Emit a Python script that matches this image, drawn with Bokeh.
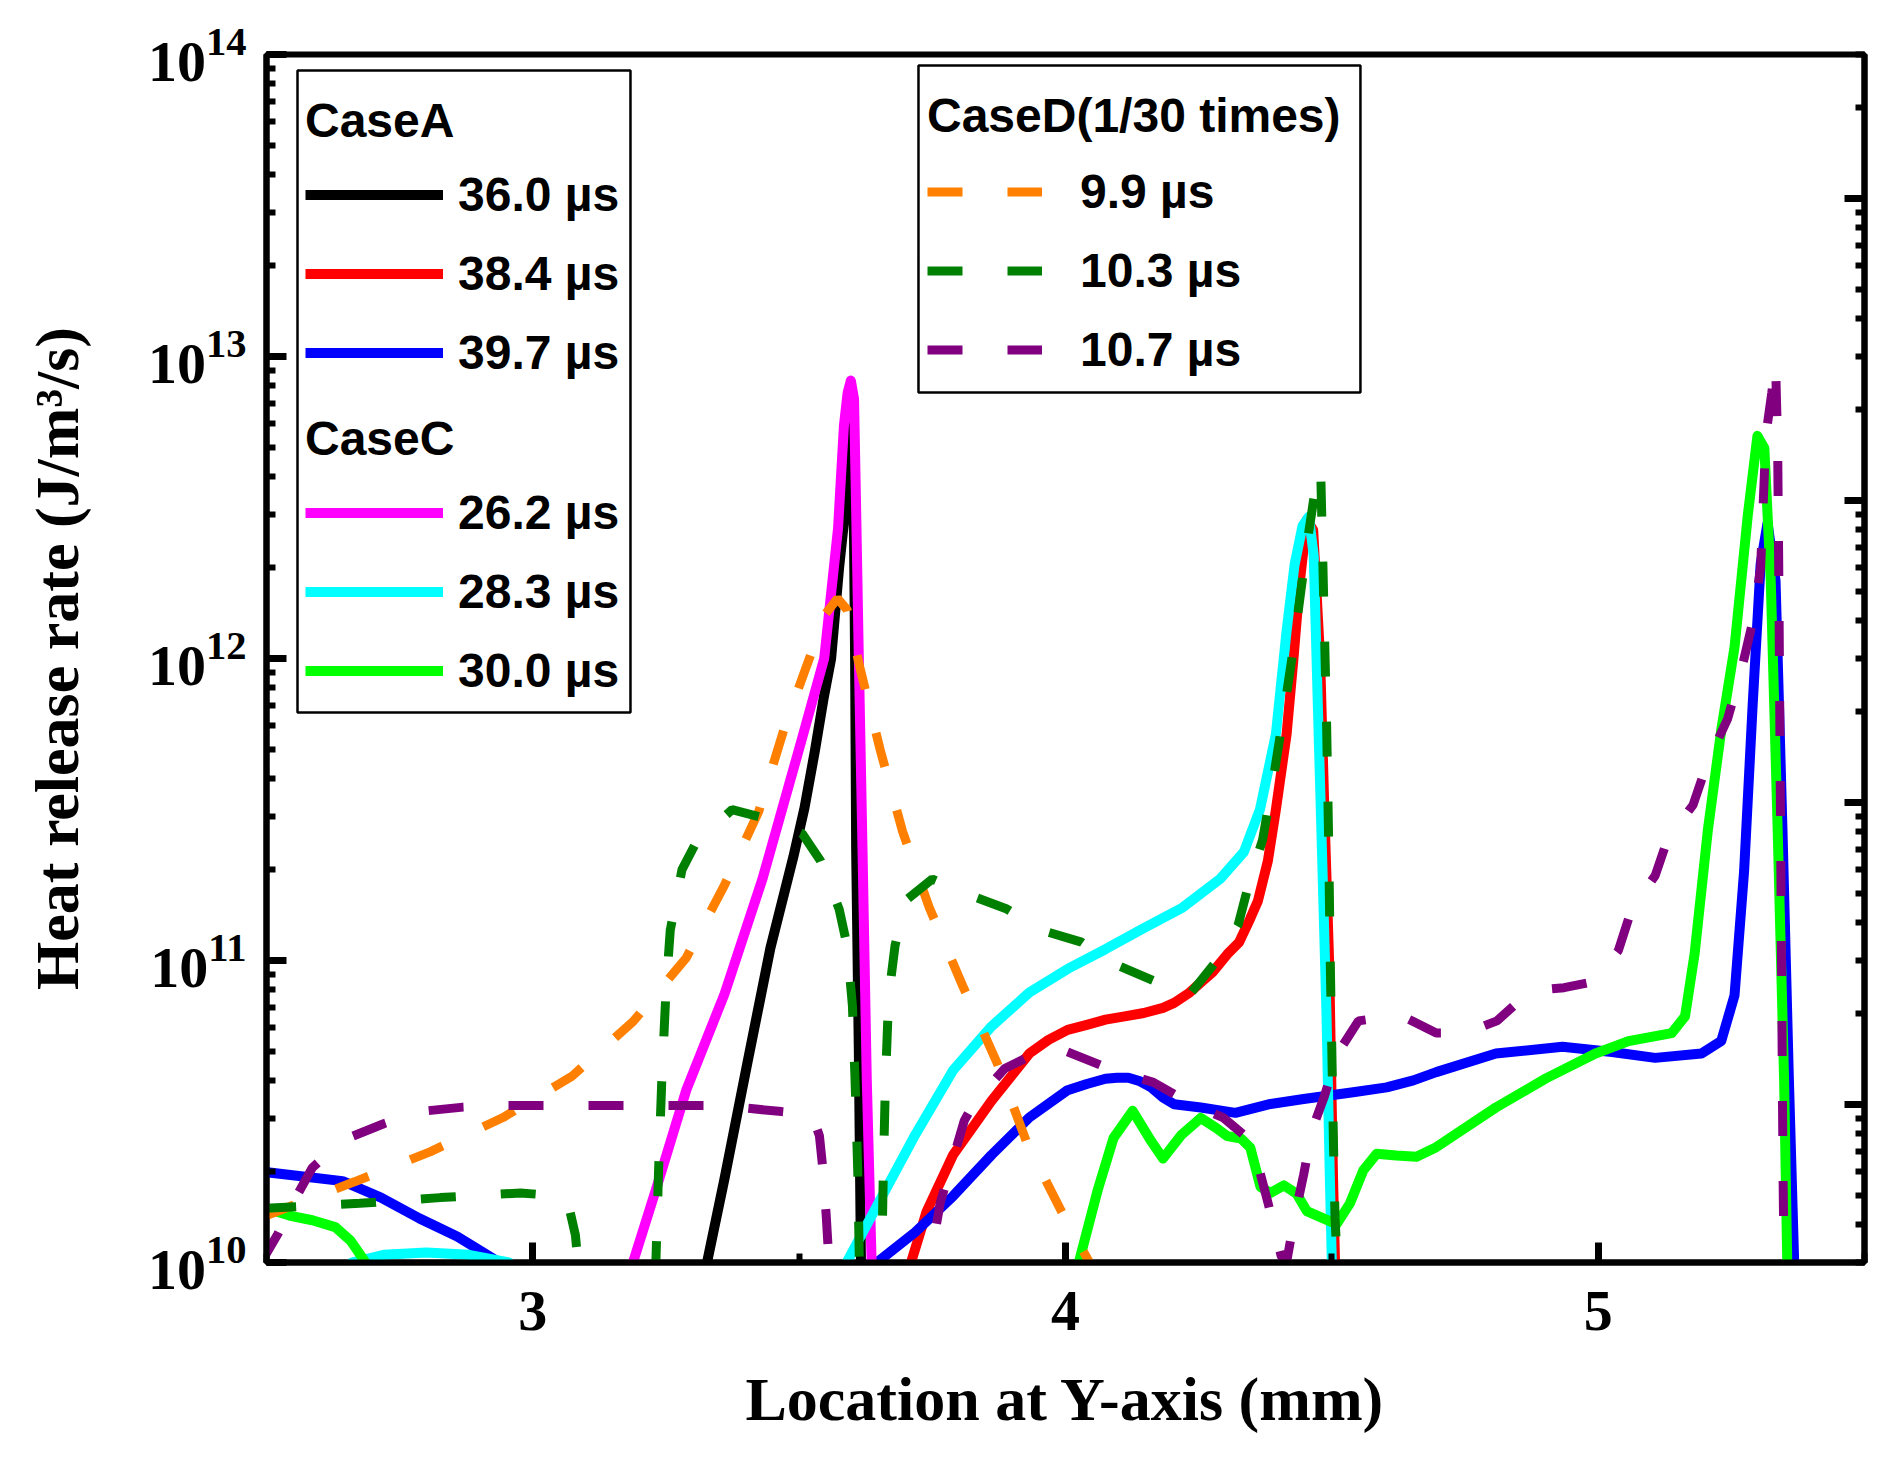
from bokeh.plotting import figure
from bokeh.models import (Range1d, LogAxis, FixedTicker, Legend, LegendItem,
                          BoxAnnotation, CustomJSTickFormatter)
from bokeh.embed import file_html
from bokeh.resources import INLINE

# ---- data (x in mm, heat release rate in J/m^3/s) ----
# CaseA
a360_x = [3.25, 3.327, 3.36, 3.403, 3.446, 3.489, 3.51, 3.53, 3.546, 3.56, 3.575, 3.59,
          3.597, 3.6, 3.603, 3.605, 3.607, 3.612, 3.616, 3.625]
a360_y = [3.2e9, 1.0e10, 1.9e10, 4.6e10, 1.1e11, 2.2e11, 3.2e11, 5.0e11, 7.4e11, 1.0e12, 2.0e12, 3.55e12,
          5.9e12, 5.0e12, 2.5e12, 1.0e12, 2.3e11, 5.0e10, 1.0e10, 3.2e9]

a384_x = [3.69, 3.71, 3.739, 3.789, 3.861, 3.932, 3.968, 4.004, 4.04, 4.075, 4.111, 4.147,
          4.183, 4.204, 4.233, 4.254, 4.276, 4.304, 4.326, 4.347, 4.361, 4.38, 4.395, 4.415,
          4.428, 4.44, 4.453, 4.465, 4.478, 4.486, 4.495, 4.502, 4.506, 4.515]
a384_y = [3.2e9, 1.0e10, 1.47e10, 2.27e10, 3.43e10, 4.92e10, 5.46e10, 5.89e10, 6.12e10, 6.37e10, 6.53e10, 6.7e10,
          6.97e10, 7.24e10, 7.83e10, 8.45e10, 9.14e10, 1.05e11, 1.15e11, 1.38e11, 1.57e11, 2.14e11, 3.16e11, 5.6e11,
          1.0e12, 1.8e12, 2.88e12, 2.66e12, 1.0e12, 3.13e11, 9.8e10, 2.0e10, 1.0e10, 3.2e9]

a397_x = [2.49, 2.643, 2.715, 2.787, 2.858, 2.93, 2.97, 3.1, 3.6, 3.646, 3.718, 3.789,
          3.861, 3.932, 4.004, 4.04, 4.075, 4.097, 4.118, 4.14, 4.161, 4.183, 4.204, 4.254,
          4.319, 4.385, 4.447, 4.54, 4.603, 4.653, 4.696, 4.808, 4.933, 5.026, 5.107, 5.194,
          5.231, 5.256, 5.274, 5.29, 5.305, 5.318, 5.333, 5.346, 5.358, 5.368, 5.38]
a397_y = [2.0e10, 1.86e10, 1.64e10, 1.4e10, 1.22e10, 1.02e10, 7.9e9, 2.0e9, 3.0e9, 1.0e10, 1.26e10, 1.66e10,
          2.27e10, 3.02e10, 3.72e10, 3.9e10, 4.06e10, 4.09e10, 4.09e10, 3.98e10, 3.8e10, 3.52e10, 3.34e10, 3.26e10,
          3.13e10, 3.35e10, 3.48e10, 3.66e10, 3.8e10, 4.01e10, 4.27e10, 4.92e10, 5.18e10, 4.98e10, 4.76e10, 4.92e10,
          5.41e10, 7.66e10, 1.98e11, 7.0e11, 2.05e12, 2.81e12, 1.81e12, 2.71e11, 4.07e10, 1.0e10, 3.2e9]

# CaseC
c262_x = [3.15, 3.188, 3.231, 3.288, 3.36, 3.431, 3.503, 3.547, 3.573, 3.584, 3.591, 3.597,
          3.603, 3.607, 3.612, 3.619, 3.627, 3.636, 3.645]
c262_y = [3.2e9, 1.0e10, 1.74e10, 3.72e10, 7.76e10, 1.86e11, 5.25e11, 1.0e12, 2.7e12, 5.89e12, 7.59e12, 8.32e12,
          7.24e12, 3.09e12, 1.0e12, 2.29e11, 3.98e10, 1.0e10, 3.2e9]

c283_x = [2.49, 2.6, 2.66, 2.72, 2.8, 2.88, 2.955, 3.02, 3.4, 3.56, 3.589, 3.646,
          3.718, 3.789, 3.861, 3.932, 4.004, 4.075, 4.147, 4.218, 4.29, 4.335, 4.365, 4.395,
          4.415, 4.43, 4.445, 4.457, 4.466, 4.474, 4.482, 4.49, 4.496, 4.5, 4.51]
c283_y = [3.0e9, 5.0e9, 1.0e10, 1.06e10, 1.08e10, 1.06e10, 1.0e10, 5.0e9, 2.0e9, 4.0e9, 1.0e10, 1.54e10,
          2.65e10, 4.33e10, 6.05e10, 7.83e10, 9.38e10, 1.09e11, 1.28e11, 1.49e11, 1.86e11, 2.29e11, 3.16e11, 5.62e11,
          1.23e12, 2.04e12, 2.75e12, 2.95e12, 2.19e12, 6.76e11, 2.14e11, 6.61e10, 2.0e10, 1.0e10, 3.2e9]

c300_x = [2.49, 2.543, 2.586, 2.629, 2.658, 2.686, 2.72, 3.5, 4.0, 4.025, 4.061, 4.09,
          4.126, 4.161, 4.183, 4.218, 4.254, 4.283, 4.304, 4.33, 4.347, 4.366, 4.385, 4.41,
          4.434, 4.453, 4.484, 4.509, 4.534, 4.559, 4.584, 4.621, 4.659, 4.696, 4.808, 4.902,
          4.995, 5.057, 5.138, 5.163, 5.181, 5.206, 5.231, 5.256, 5.281, 5.299, 5.312, 5.324,
          5.337, 5.349, 5.355, 5.365]
c300_y = [1.53e10, 1.43e10, 1.38e10, 1.31e10, 1.18e10, 1.0e10, 5.0e9, 1.0e9, 4.0e9, 1.0e10, 1.75e10, 2.58e10,
          3.18e10, 2.52e10, 2.21e10, 2.65e10, 3.01e10, 2.79e10, 2.62e10, 2.57e10, 2.4e10, 1.78e10, 1.7e10, 1.8e10,
          1.69e10, 1.48e10, 1.4e10, 1.34e10, 1.57e10, 2.02e10, 2.29e10, 2.26e10, 2.24e10, 2.41e10, 3.26e10, 4.07e10,
          4.92e10, 5.41e10, 5.75e10, 6.53e10, 1.05e11, 2.71e11, 5.78e11, 1.09e12, 2.99e12, 5.46e12, 4.97e12, 1.81e12,
          2.71e11, 4.07e10, 1.0e10, 3.2e9]

# CaseD, plotted at 1/30 of the real value
d99_x = [2.49, 2.665, 2.808, 2.944, 3.073, 3.188, 3.288, 3.36, 3.424, 3.474, 3.517, 3.55,
         3.572, 3.59, 3.614, 3.652, 3.694, 3.744, 3.807, 3.872, 3.929, 3.993, 4.032, 4.061, 4.1]
d99_y = [1.41e10, 1.85e10, 2.33e10, 3.02e10, 4.13e10, 6.27e10, 1.02e11, 1.78e11, 3.11e11, 6.03e11, 9.77e11, 1.41e12,
         1.58e12, 1.45e12, 9.33e11, 4.99e11, 2.68e11, 1.5e11, 8.24e10, 4.56e10, 2.45e10, 1.47e10, 1.1e10, 8.9e9, 5.0e9]

d103_x = [2.49, 2.675, 2.826, 2.977, 3.05, 3.066, 3.08, 3.09, 3.1, 3.22, 3.231, 3.236,
          3.242, 3.25, 3.258, 3.28, 3.306, 3.374, 3.438, 3.506, 3.54, 3.575, 3.59, 3.6,
          3.605, 3.61, 3.613, 3.62, 3.645, 3.655, 3.658, 3.662, 3.668, 3.68, 3.7, 3.75,
          3.815, 3.89, 3.955, 4.03, 4.09, 4.17, 4.23, 4.286, 4.324, 4.345, 4.37, 4.39,
          4.408, 4.425, 4.44, 4.455, 4.468, 4.479, 4.482, 4.486, 4.49, 4.494, 4.497, 4.5,
          4.503, 4.506, 4.51, 4.52]
d103_y = [1.51e10, 1.57e10, 1.64e10, 1.7e10, 1.66e10, 1.58e10, 1.23e10, 7.9e9, 3.2e9, 3.2e9, 1.0e10, 2.0e10,
          3.98e10, 7.94e10, 1.26e11, 2.0e11, 2.45e11, 3.16e11, 2.95e11, 2.63e11, 2.14e11, 1.48e11, 1.12e11, 7.08e10,
          3.98e10, 2.0e10, 1.0e10, 3.2e9, 3.2e9, 1.0e10, 2.0e10, 3.98e10, 7.59e10, 1.12e11, 1.58e11, 1.86e11,
          1.66e11, 1.48e11, 1.26e11, 1.15e11, 9.77e10, 8.51e10, 7.59e10, 1.01e11, 1.31e11, 1.82e11, 2.51e11, 3.98e11,
          6.31e11, 1.0e12, 1.58e12, 2.51e12, 3.55e12, 4.27e12, 2.51e12, 1.26e12, 6.31e11, 2.51e11, 1.0e11, 5.01e10,
          2.51e10, 1.41e10, 1.0e10, 3.2e9]

d107_x = [2.49, 2.521, 2.55, 2.586, 2.643, 2.72, 2.787, 2.869, 2.933, 3.05, 3.2, 3.35,
          3.467, 3.524, 3.538, 3.545, 3.551, 3.556, 3.565, 3.73, 3.745, 3.765, 3.782, 3.81,
          3.829, 3.886, 3.95, 4.0, 4.09, 4.165, 4.226, 4.297, 4.35, 4.38, 4.405, 4.415,
          4.43, 4.447, 4.463, 4.486, 4.51, 4.55, 4.628, 4.696, 4.75, 4.81, 4.873, 4.936,
          4.992, 5.038, 5.063, 5.107, 5.131, 5.178, 5.206, 5.243, 5.27, 5.29, 5.305, 5.315,
          5.326, 5.333, 5.337, 5.339, 5.341, 5.343, 5.345, 5.347, 5.349, 5.36]
d107_y = [1.0e10, 1.24e10, 1.58e10, 2.06e10, 2.54e10, 2.88e10, 3.16e10, 3.27e10, 3.31e10, 3.31e10, 3.31e10, 3.31e10,
          3.16e10, 3.09e10, 2.63e10, 2.0e10, 1.41e10, 1.0e10, 3.2e9, 3.2e9, 1.0e10, 1.58e10, 2.0e10, 2.95e10,
          3.39e10, 4.39e10, 4.99e10, 5.01e10, 4.33e10, 3.95e10, 3.43e10, 3.01e10, 2.51e10, 1.58e10, 1.05e10, 1.0e10,
          1.41e10, 1.95e10, 2.75e10, 3.55e10, 4.9e10, 6.31e10, 6.61e10, 5.75e10, 5.75e10, 6.31e10, 7.94e10, 8.13e10,
          8.51e10, 1.08e11, 1.48e11, 1.91e11, 2.54e11, 3.27e11, 4.57e11, 6.31e11, 9.33e11, 1.32e12, 2.0e12, 5.5e12,
          7.6e12, 9.55e12, 5.01e12, 2.0e12, 6.31e11, 2.0e11, 6.31e10, 2.0e10, 1.0e10, 3.2e9]

x_ticks = [3, 4, 5]
y_ticks = [1e10, 1e11, 1e12, 1e13, 1e14]
d_ticks = [1e12, 1e13, 1e14, 1e15]

SERIF = "Liberation Serif"
SANS = "Liberation Sans"

p = figure(width=1883, height=1450, y_axis_type="log",
           x_range=Range1d(2.5, 5.5), y_range=Range1d(1e10, 1e14),
           output_backend="svg", toolbar_location=None,
           min_border_left=266, min_border_right=19, min_border_top=54, min_border_bottom=188)
p.grid.visible = False
p.outline_line_color = "black"
p.outline_line_width = 6
p.background_fill_color = "white"
p.border_fill_color = "white"

# right axis: CaseD real scale (30 times), ticks only
p.extra_y_ranges = {"d": Range1d(3e11, 3e15)}
minor_d = [m * 10.0 ** e for e in range(11, 16) for m in range(2, 10)]
raxis = LogAxis(y_range_name="d",
                ticker=FixedTicker(ticks=d_ticks, minor_ticks=minor_d),
                formatter=CustomJSTickFormatter(code="return ''"))
p.add_layout(raxis, "right")

xa = p.xaxis[0]
xa.ticker = FixedTicker(ticks=x_ticks, minor_ticks=[2.5, 3.5, 4.5, 5.5])
xa.axis_label = "Location at Y-axis (mm)"

ya = p.left[0]
minor_y = [m * 10.0 ** e for e in range(10, 14) for m in range(2, 10)]
ya.ticker = FixedTicker(ticks=y_ticks, minor_ticks=minor_y)
ya.axis_label = "Heat release rate (J/m³/s)"

for ax in (xa, ya, raxis):
    ax.axis_line_width = 6
    ax.major_tick_in = 20
    ax.major_tick_out = 0
    ax.minor_tick_in = 9
    ax.minor_tick_out = 0
    ax.major_tick_line_width = 7
    ax.minor_tick_line_width = 6
    ax.axis_label_text_font = SERIF
    ax.axis_label_text_font_style = "bold"
    ax.axis_label_text_font_size = "62px"
    ax.major_label_text_font = SERIF
    ax.major_label_text_font_style = "bold"
    ax.major_label_text_font_size = "58px"
    ax.major_label_text_color = "black"
    ax.axis_label_text_color = "black"
raxis.major_label_text_font_size = "0px"
raxis.major_label_standoff = 0

xa.major_label_standoff = 29
xa.axis_label_standoff = 32
ya.major_label_standoff = 20
ya.axis_label_standoff = 54

DASH = "35 45"

def solid(xs, ys, color):
    return p.line(xs, ys, line_color=color, line_width=10, line_join="round")

def dashed(xs, ys, color):
    return p.line(xs, ys, line_color=color, line_width=9, line_dash=DASH)

r_a360 = solid(a360_x, a360_y, "black")
r_a384 = solid(a384_x, a384_y, "#ff0000")
r_a397 = solid(a397_x, a397_y, "#0000ff")
r_c262 = solid(c262_x, c262_y, "#ff00ff")
r_c283 = solid(c283_x, c283_y, "#00ffff")
r_c300 = solid(c300_x, c300_y, "#00ff00")
r_d99 = dashed(d99_x, d99_y, "#ff8000")
r_d103 = dashed(d103_x, d103_y, "#008000")
r_d107 = dashed(d107_x, d107_y, "#800080")

def make_legend(title, pairs, loc, gw, standoff, title_gap):
    leg = Legend(items=[LegendItem(label=lab, renderers=[r]) for lab, r in pairs],
                 title=title, location=loc, margin=0, padding=0, spacing=0,
                 glyph_width=gw, glyph_height=79, label_height=79, label_standoff=standoff,
                 title_standoff=title_gap,
                 border_line_alpha=0, background_fill_alpha=0,
                 label_text_font=SANS, label_text_font_style="bold", label_text_font_size="48px",
                 title_text_font=SANS, title_text_font_style="bold", title_text_font_size="48px",
                 label_text_color="black", title_text_color="black")
    p.add_layout(leg)
    return leg

make_legend("CaseA", [("36.0 µs", r_a360), ("38.4 µs", r_a384), ("39.7 µs", r_a397)], (39, 870), 138, 15, 7)
make_legend("CaseC", [("26.2 µs", r_c262), ("28.3 µs", r_c283), ("30.0 µs", r_c300)], (39, 552), 138, 15, 7)
make_legend("CaseD(1/30 times)", [("9.9 µs", r_d99), ("10.3 µs", r_d103), ("10.7 µs", r_d107)], (661, 873), 115, 38, 9)

# legend frames
p.add_layout(BoxAnnotation(left=2.5582, right=3.1833, top=8.85e13, bottom=6.63e11,
                           fill_alpha=0, line_color="black", line_width=2.5, line_alpha=1))
p.add_layout(BoxAnnotation(left=3.724, right=4.5537, top=9.2e13, bottom=7.6e12,
                           fill_alpha=0, line_color="black", line_width=2.5, line_alpha=1))

open("out.html", "w").write(file_html(p, INLINE))
